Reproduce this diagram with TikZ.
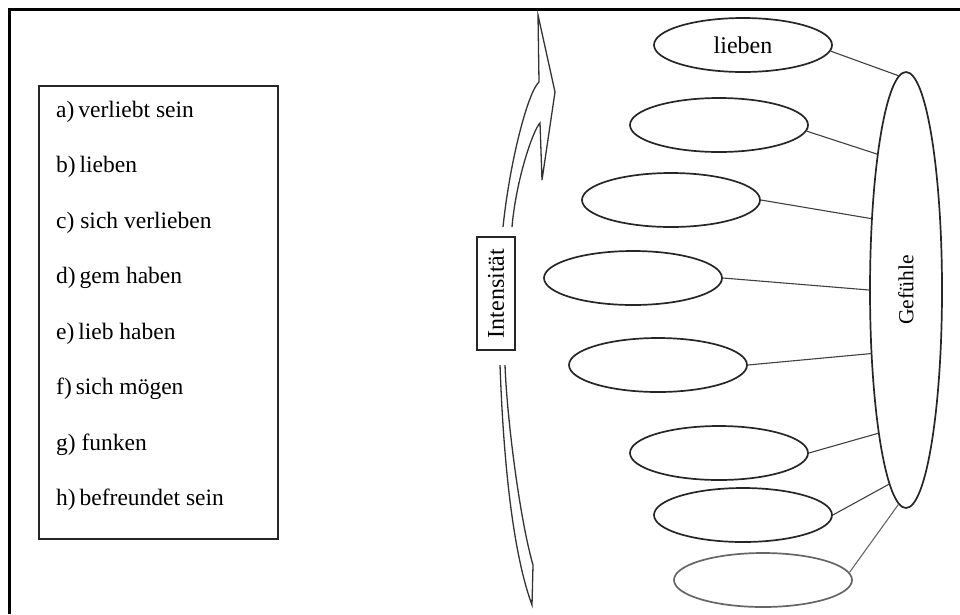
\documentclass[tikz,border=0pt]{standalone}
\usepackage{fontspec}
\setmainfont{Liberation Serif}
\usetikzlibrary{shapes.geometric}
\begin{document}
\begin{tikzpicture}[x=1pt,y=-1pt,
  ink/.style={draw=black!85, line width=1.7pt},
  leaf/.style={ellipse, ink, minimum width=178pt, minimum height=54pt,
    inner sep=0pt, font=\fontsize{24}{28}\selectfont},
  link/.style={draw=black!75, line width=1.1pt},
  band/.style={draw=black!80, line width=1.3pt, line join=miter},
  item/.style={anchor=base west, inner sep=0pt, font=\fontsize{23.5}{28}\selectfont}
]
\useasboundingbox (0,0) rectangle (960,614);

% page frame (top and left edges)
\draw[line width=2.2pt] (9.5,614) -- (9.5,9.5) -- (960,9.5);

% word list
\node[draw=black!85, line width=1.6pt, anchor=north west, minimum width=239pt,
      minimum height=453pt, inner sep=0pt] (list) at (38,85) {};
\node[item] (ia) at (56,117)   {a)\,verliebt sein};
\node[item] (ib) at (56,172.5) {b)\,lieben};
\node[item] (ic) at (56,228)   {c) sich verlieben};
\node[item] (id) at (56,283.5) {d)\,gem haben};
\node[item] (ie) at (56,339)   {e)\,lieb haben};
\node[item] (if) at (56,394.5) {f)\,sich mögen};
\node[item] (ig) at (56,450)   {g) funken};
\node[item] (ih) at (56,505.5) {h)\,befreundet sein};

% intensity band: upper part with arrow head
\coordinate (oa) at (503,227);
\coordinate (sh) at (539,82);
\coordinate (tip) at (538,15);
\coordinate (barb) at (555,92);
\coordinate (hp) at (542,180);
\coordinate (notch) at (540,123);
\coordinate (ia1) at (512,227);
\draw[band] (oa) .. controls (510,160) and (528,92) .. (sh) -- (tip) -- (barb)
  -- (hp) -- (notch) .. controls (533,130) and (516,180) .. (ia1);

% intensity band: lower part with tail
\coordinate (ob) at (500,365);
\coordinate (tq) at (532,605);
\coordinate (tr) at (533,565);
\coordinate (ib1) at (505,365);
\draw[band] (ob) .. controls (502,420) and (508,540) .. (tq) -- (tr)
  .. controls (520,520) and (507,420) .. (ib1);

\node[ink, fill=white, rotate=90, minimum width=113pt, minimum height=38pt,
      inner sep=0pt, font=\fontsize{24}{28}\selectfont] (int) at (496,293.5) {Intensität};

% feelings
\node[ellipse, ink, minimum width=72pt, minimum height=436pt, inner sep=0pt,
      font=\fontsize{21.5}{26}\selectfont] (gef) at (906,290) {\rotatebox{90}{Gefühle}};

\node[leaf] (e1) at (743,45)  {lieben};
\node[leaf] (e2) at (719,125) {};
\node[leaf] (e3) at (671,200) {};
\node[leaf] (e4) at (633,278) {};
\node[leaf] (e5) at (658,365) {};
\node[leaf] (e6) at (719,453) {};
\node[leaf] (e7) at (743,515) {};
\node[leaf, draw=black!60] (e8) at (763,580) {};

\draw[link] (e1.-4) -- (gef.92);
\draw[link] (e2.-4) -- (gef.102);
\draw[link] (e3.east) -- (gef.116);
\draw[link] (e4.east) -- (gef.180);
\draw[link] (e5.east) -- (gef.241);
\draw[link] (e6.east) -- (gef.259.5);
\draw[link] (e7.east) -- (gef.265.6);
\draw[link, draw=black!60] (e8.5) -- (gef.268);
\end{tikzpicture}
\end{document}
